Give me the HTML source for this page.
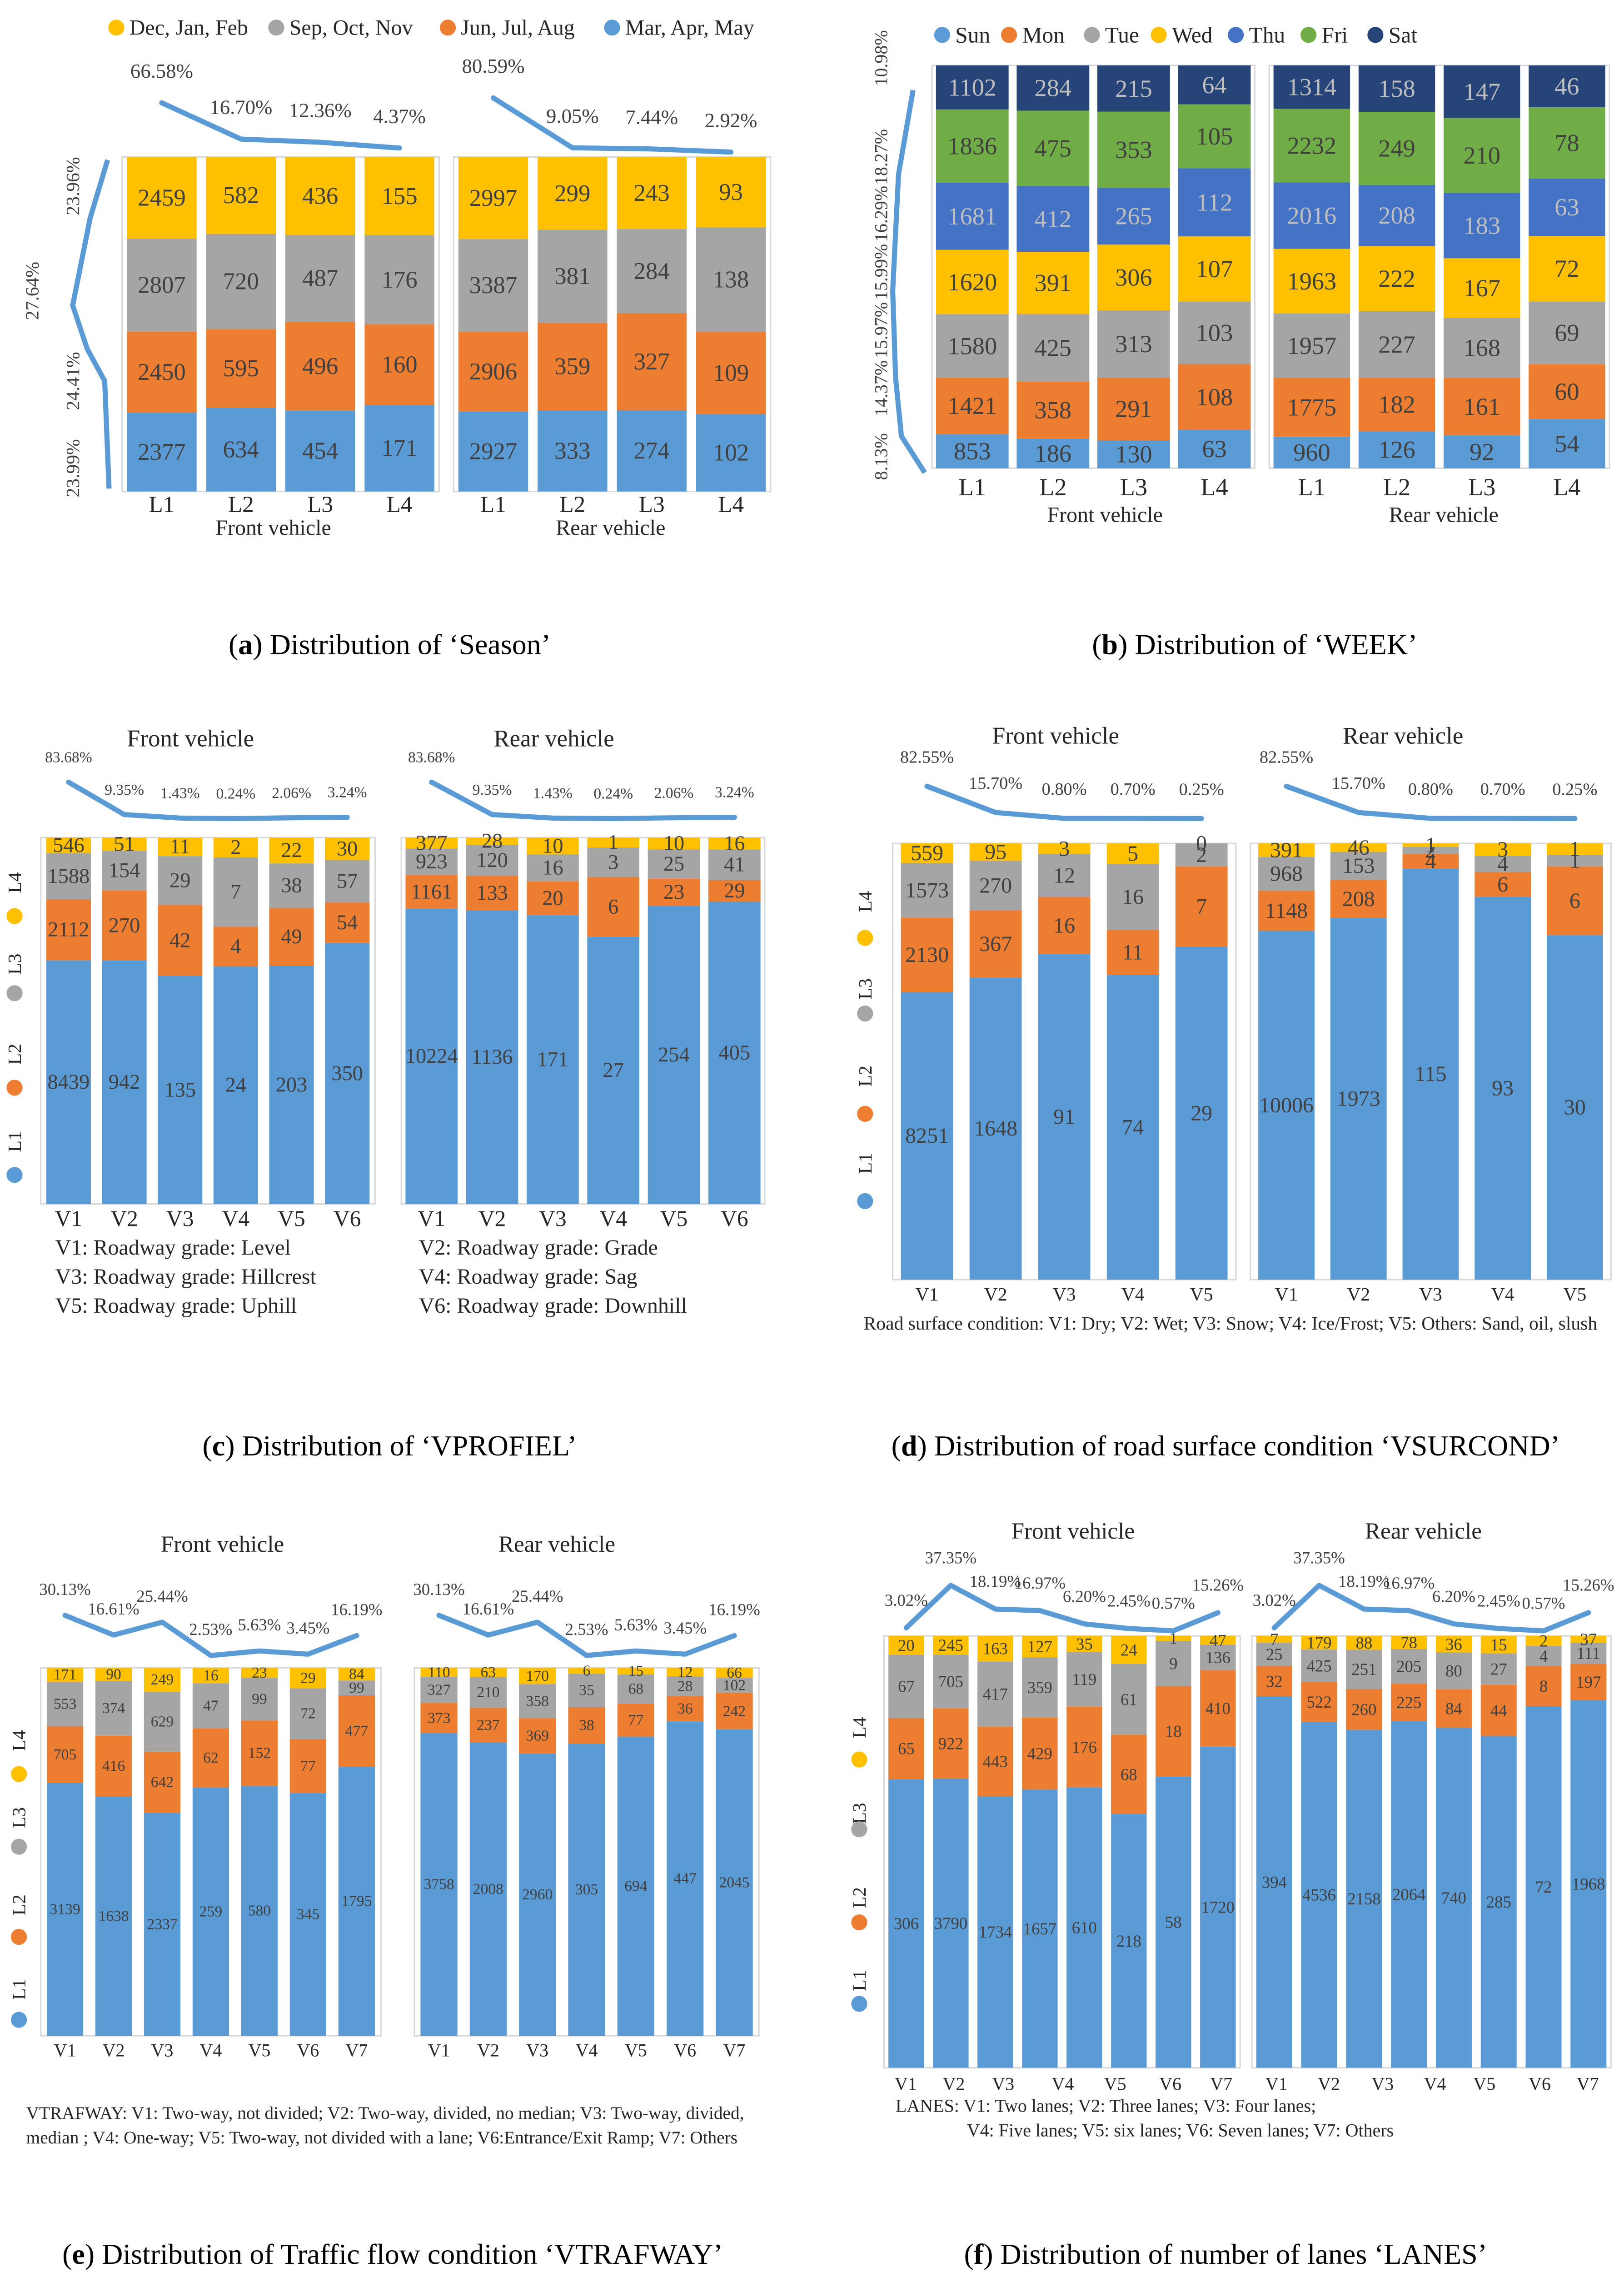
<!DOCTYPE html>
<html><head><meta charset="utf-8"><style>
html,body{margin:0;padding:0;background:#fff;width:3574px;height:5037px;overflow:hidden;}
svg{display:block;font-family:"Liberation Serif",serif;}
</style></head><body>
<svg id="fig" xmlns="http://www.w3.org/2000/svg" width="3574" height="5037" viewBox="0 0 1117 1574" preserveAspectRatio="none">
<rect x="0" y="0" width="1117" height="1574" fill="#fff"/>
</svg>
<script>
// ===== Data =====
// (a) Season
const aCats=['L1','L2','L3','L4'];
const aF_MAM=[2377,634,454,171], aF_JJA=[2450,595,496,160], aF_SON=[2807,720,487,176], aF_DJF=[2459,582,436,155];
const aR_MAM=[2927,333,274,102], aR_JJA=[2906,359,327,109], aR_SON=[3387,381,284,138], aR_DJF=[2997,299,243,93];
const aF_pct=[66.58,16.70,12.36,4.37], aR_pct=[80.59,9.05,7.44,2.92];
// (b) Week
const bCats=['L1','L2','L3','L4'];
const bF_Sun=[853,186,130,63], bF_Mon=[1421,358,291,108], bF_Tue=[1580,425,313,103], bF_Wed=[1620,391,306,107], bF_Thu=[1681,412,265,112], bF_Fri=[1836,475,353,105], bF_Sat=[1102,284,215,64];
const bR_Sun=[960,126,92,54], bR_Mon=[1775,182,161,60], bR_Tue=[1957,227,168,69], bR_Wed=[1963,222,167,72], bR_Thu=[2016,208,183,63], bR_Fri=[2232,249,210,78], bR_Sat=[1314,158,147,46];
// (c) VPROFIEL
const cCats=['V1','V2','V3','V4','V5','V6'];
const cF_L1=[8439,942,135,24,203,350], cF_L2=[2112,270,42,4,49,54], cF_L3=[1588,154,29,7,38,57], cF_L4=[546,51,11,2,22,30];
const cR_L1=[10224,1136,171,27,254,405], cR_L2=[1161,133,20,6,23,29], cR_L3=[923,120,16,3,25,41], cR_L4=[377,28,10,1,10,16];
const cPct=[83.68,9.35,1.43,0.24,2.06,3.24];
// (d) VSURCOND
const dCats=['V1','V2','V3','V4','V5'];
const dF_L1=[8251,1648,91,74,29], dF_L2=[2130,367,16,11,7], dF_L3=[1573,270,12,16,2], dF_L4=[559,95,3,5,0];
const dR_L1=[10006,1973,115,93,30], dR_L2=[1148,208,4,6,6], dR_L3=[968,153,2,4,1], dR_L4=[391,46,1,3,1];
const dPct=[82.55,15.70,0.80,0.70,0.25];
// (e) VTRAFWAY
const eCats=['V1','V2','V3','V4','V5','V6','V7'];
const eF_L1=[3139,1638,2337,259,580,345,1795], eF_L2=[705,416,642,62,152,77,477], eF_L3=[553,374,629,47,99,72,99], eF_L4=[171,90,249,16,23,29,84];
const eR_L1=[3758,2008,2960,305,694,447,2045], eR_L2=[373,237,369,38,77,36,242], eR_L3=[327,210,358,35,68,28,102], eR_L4=[110,63,170,6,15,12,66];
const ePct=[30.13,16.61,25.44,2.53,5.63,3.45,16.19];
// (f) LANES
const fCats=['V1','V2','V3','V4','V5','V6','V7'];
const fF_L1=[306,3790,1734,1657,610,218,58,1720], fF_L2=[65,922,443,429,176,68,18,410], fF_L3=[67,705,417,359,119,61,9,136], fF_L4=[20,245,163,127,35,24,1,47];
const fR_L1=[394,4536,2158,2064,740,285,72,1968], fR_L2=[32,522,260,225,84,44,8,197], fR_L3=[25,425,251,205,80,27,4,111], fR_L4=[7,179,88,78,36,15,2,37];
const fPct=[3.02,37.35,18.19,16.97,6.20,2.45,0.57,15.26];

const BLUE='#5B9BD5',ORANGE='#ED7D31',GRAY='#A5A5A5',YELLOW='#FFC000',DBLUE='#4472C4',GREEN='#70AD47',NAVY='#264478';
const svg=document.getElementById('fig');
const NS='http://www.w3.org/2000/svg';
function mk(tag,attrs,parent,txt){const e=document.createElementNS(NS,tag);for(const k in attrs)e.setAttribute(k,attrs[k]);if(txt!==undefined)e.textContent=txt;(parent||svg).appendChild(e);return e;}
function txt(x,y,s,fs,opts){opts=opts||{};const t=mk('text',{x:x,y:y,'font-size':fs,fill:opts.fill||'#262626','text-anchor':opts.anchor||'middle','dominant-baseline':'central'},opts.parent,s);if(opts.rot)t.setAttribute('transform','rotate(-90 '+x+' '+y+')');


return t;}

function stack(name,px,py,pw,ph,n,barRatio,series,colors,fs,tfills){
  const g=mk('g',{});
  
  
  const fr=mk('rect',{x:px,y:py,width:pw,height:ph,fill:'none',stroke:'#d9d9d9','stroke-width':1},g);
  
  
  const step=pw/n, bw=step*barRatio, centers=[];
  for(let i=0;i<n;i++){
    const cx=px+step*(i+0.5);centers.push(cx);
    let tot=0;series.forEach(s=>tot+=s[i]);
    let y=py+ph;
    series.forEach((s,j)=>{
      const h=tot?s[i]/tot*ph:0;y-=h;
      const r=mk('rect',{x:cx-bw/2,y:y,width:bw,height:Math.max(h,0),fill:colors[j]},g);
      
      
      txt(cx,y+h/2,String(s[i]),fs,{parent:g,fill:(tfills&&tfills[j])||'#404040',name:'value-label'});
    });
  }
  return centers;
}
function catLabels(xs,cats,y,fs){xs.forEach((x,i)=>{if(cats[i]!==undefined)txt(x,y,cats[i],fs,{name:'x-tick-label'});});}
function pctLine(xs,pcts,base,k,dy,fs,w){
  const pts=xs.map((x,i)=>x+','+(base-pcts[i]*k)).join(' ');
  const l=mk('polyline',{points:pts,fill:'none',stroke:BLUE,'stroke-width':w||3.5,'stroke-linejoin':'round','stroke-linecap':'round'});
  
  
  xs.forEach((x,i)=>txt(x,base-pcts[i]*k+dy,pcts[i].toFixed(2)+'%',fs,{name:'percentage-label',fill:'#404040'}));
}
function legendDot(x,y,c,label,fs){const d=mk('circle',{cx:x,cy:y,r:5.5,fill:c});


txt(x+9,y,label,fs,{anchor:'start',name:'legend-entry'});}
function sideLegend(x,ys,fs){const labs=['L4','L3','L2','L1'],cols=[YELLOW,GRAY,ORANGE,BLUE];
ys.forEach((y,i)=>{txt(x,y[0],labs[i],fs,{rot:true,name:'side-legend-label'});const d=mk('circle',{cx:x,cy:y[1],r:5.5,fill:cols[i]});

});}
function caption(x,y,bold,rest){const t=mk('text',{x:x,y:y,'font-size':20,'text-anchor':'middle','dominant-baseline':'central',fill:'#000'});


mk('tspan',{},t,'(');mk('tspan',{'font-weight':'bold'},t,bold);mk('tspan',{},t,') '+rest);}

// ===== (a) =====
legendDot(80,19,YELLOW,'Dec, Jan, Feb',15);legendDot(190,19,GRAY,'Sep, Oct, Nov',15);legendDot(308,19,ORANGE,'Jun, Jul, Aug',15);legendDot(421,19,BLUE,'Mar, Apr, May',15);
const s4=[BLUE,ORANGE,GRAY,YELLOW];
let xa=stack('season-front-chart',84,108,218,230,4,0.88,[aF_MAM,aF_JJA,aF_SON,aF_DJF],s4,16.5);
catLabels(xa,aCats,347,16);txt(188,363,'Front vehicle',15,{name:'x-axis-title'});
pctLine(xa,aF_pct,104,0.5,-22,14);
let xa2=stack('season-rear-chart',312,108,218,230,4,0.88,[aR_MAM,aR_JJA,aR_SON,aR_DJF],s4,16.5);
catLabels(xa2,aCats,347,16);txt(420,363,'Rear vehicle',15,{name:'x-axis-title'});
pctLine(xa2,aR_pct,106,0.48,-22,14);
(function(){const l=mk('polyline',{points:'74,110 62,150 50,210 60,240 72,262 75,336',fill:'none',stroke:BLUE,'stroke-width':3.5});


[[50,128,'23.96%'],[22,200,'27.64%'],[50,262,'24.41%'],[50,322,'23.99%']].forEach(a=>txt(a[0],a[1],a[2],13,{rot:true,name:'season-share-label',fill:'#404040'}));})();
caption(268,443,'a','Distribution of \u2018Season\u2019');

// ===== (b) =====
[['Sun',BLUE,648],['Mon',ORANGE,694],['Tue',GRAY,751],['Wed',YELLOW,797],['Thu',DBLUE,850],['Fri',GREEN,900],['Sat',NAVY,946]].forEach(a=>legendDot(a[2],24,a[1],a[0],15.5));
const s7=[BLUE,ORANGE,GRAY,YELLOW,DBLUE,GREEN,NAVY];
const t7=['#404040','#404040','#404040','#404040','#bfbfbf','#404040','#bfbfbf'];
let xb=stack('week-front-chart',641,45,222,277,4,0.9,[bF_Sun,bF_Mon,bF_Tue,bF_Wed,bF_Thu,bF_Fri,bF_Sat],s7,17,t7);
catLabels(xb,bCats,335,17);txt(760,354,'Front vehicle',15,{name:'x-axis-title'});
let xb2=stack('week-rear-chart',873,45,234,277,4,0.9,[bR_Sun,bR_Mon,bR_Tue,bR_Wed,bR_Thu,bR_Fri,bR_Sat],s7,17,t7);
catLabels(xb2,bCats,335,17);txt(993,354,'Rear vehicle',15,{name:'x-axis-title'});
(function(){const l=mk('polyline',{points:'628,62 618,120 614,200 616,260 620,300 636,325',fill:'none',stroke:BLUE,'stroke-width':3.5});


[[606,40,'10.98%'],[606,108,'18.27%'],[606,147,'16.29%'],[606,187,'15.99%'],[606,227,'15.97%'],[606,267,'14.37%'],[606,314,'8.13%']].forEach(a=>txt(a[0],a[1],a[2],12.5,{rot:true,name:'week-share-label',fill:'#404040'}));})();
caption(863,443,'b','Distribution of \u2018WEEK\u2019');

// ===== (c) =====
txt(131,508,'Front vehicle',16.5,{name:'chart-title'});txt(381,508,'Rear vehicle',16.5,{name:'chart-title'});
let xc=stack('vprofiel-front-chart',28,576,230,252,6,0.8,[cF_L1,cF_L2,cF_L3,cF_L4],s4,14.5);
catLabels(xc,cCats,838,15.5);pctLine(xc,cPct,563,0.3,-17,10.5);
let xc2=stack('vprofiel-rear-chart',276,576,250,252,6,0.86,[cR_L1,cR_L2,cR_L3,cR_L4],s4,14.5);
catLabels(xc2,cCats,838,15.5);pctLine(xc2,cPct,563,0.3,-17,10.5);
sideLegend(10,[[607,630],[663,683],[725,748],[785,808]],13);
[[38,858,'V1: Roadway grade: Level'],[288,858,'V2: Roadway grade: Grade'],[38,878,'V3: Roadway grade: Hillcrest'],[288,878,'V4: Roadway grade: Sag'],[38,898,'V5: Roadway grade: Uphill'],[288,898,'V6: Roadway grade: Downhill']].forEach(a=>txt(a[0],a[1],a[2],15,{anchor:'start',name:'category-note'}));
caption(268,994,'c','Distribution of \u2018VPROFIEL\u2019');

// ===== (d) =====
txt(726,506,'Front vehicle',16.5,{name:'chart-title'});txt(965,506,'Rear vehicle',16.5,{name:'chart-title'});
let xd=stack('vsurcond-front-chart',614,580,236,300,5,0.76,[dF_L1,dF_L2,dF_L3,dF_L4],s4,15);
catLabels(xd,dCats,890,13);pctLine(xd,dPct,563,0.27,-20,12);
let xd2=stack('vsurcond-rear-chart',860,580,248,300,5,0.78,[dR_L1,dR_L2,dR_L3,dR_L4],s4,15);
catLabels(xd2,dCats,890,13);pctLine(xd2,dPct,563,0.27,-20,12);
sideLegend(595,[[620,645],[680,697],[740,766],[800,826]],13);
txt(594,910,'Road surface condition:  V1: Dry;  V2: Wet; V3: Snow; V4: Ice/Frost; V5: Others: Sand, oil, slush',13,{anchor:'start',name:'category-note'});
caption(843,994,'d','Distribution of road surface condition \u2018VSURCOND\u2019');

// ===== (e) =====
txt(153,1062,'Front vehicle',16,{name:'chart-title'});txt(383,1062,'Rear vehicle',16,{name:'chart-title'});
let xe=stack('vtrafway-front-chart',28,1147,234,253,7,0.75,[eF_L1,eF_L2,eF_L3,eF_L4],s4,10.5);
catLabels(xe,eCats,1410,12.5);pctLine(xe,ePct,1141,1.0,-18,11.5);
let xe2=stack('vtrafway-rear-chart',285,1147,237,253,7,0.75,[eR_L1,eR_L2,eR_L3,eR_L4],s4,10.5);
catLabels(xe2,eCats,1410,12.5);pctLine(xe2,ePct,1141,1.0,-18,11.5);
sideLegend(13,[[1197,1220],[1250,1270],[1310,1332],[1368,1389]],13);
txt(18,1453,'VTRAFWAY:  V1: Two-way, not divided;  V2: Two-way, divided, no median; V3: Two-way,  divided,',12.3,{anchor:'start',name:'category-note'});
txt(18,1470,'median ; V4: One-way; V5: Two-way, not divided with a lane; V6:Entrance/Exit Ramp; V7: Others',12.3,{anchor:'start',name:'category-note'});
caption(270,1550,'e','Distribution of Traffic flow condition \u2018VTRAFWAY\u2019');

// ===== (f) =====
txt(738,1053,'Front vehicle',16,{name:'chart-title'});txt(979,1053,'Rear vehicle',16,{name:'chart-title'});
let xf=stack('lanes-front-chart',608,1125,245,297,8,0.8,[fF_L1,fF_L2,fF_L3,fF_L4],s4,11.5);
pctLine(xf,fPct,1122,0.85,-19,11.5);
[623,656,690,731,767,805,840].forEach((x,i)=>txt(x,1433,fCats[i],12.5,{name:'x-tick-label'}));
let xf2=stack('lanes-rear-chart',861,1125,247,297,8,0.8,[fR_L1,fR_L2,fR_L3,fR_L4],s4,11.5);
pctLine(xf2,fPct,1122,0.85,-19,11.5);
[878,914,951,987,1021,1059,1092].forEach((x,i)=>txt(x,1433,fCats[i],12.5,{name:'x-tick-label'}));
sideLegend(591,[[1188,1210],[1247,1258],[1305,1322],[1362,1378]],13);
txt(616,1448,'LANES:  V1: Two lanes;  V2: Three lanes; V3: Four lanes;',12.5,{anchor:'start',name:'category-note'});
txt(665,1465,'V4: Five lanes; V5: six lanes; V6: Seven lanes; V7: Others',12.5,{anchor:'start',name:'category-note'});
caption(843,1550,'f','Distribution of number of lanes \u2018LANES\u2019');
</script>
</body></html>
